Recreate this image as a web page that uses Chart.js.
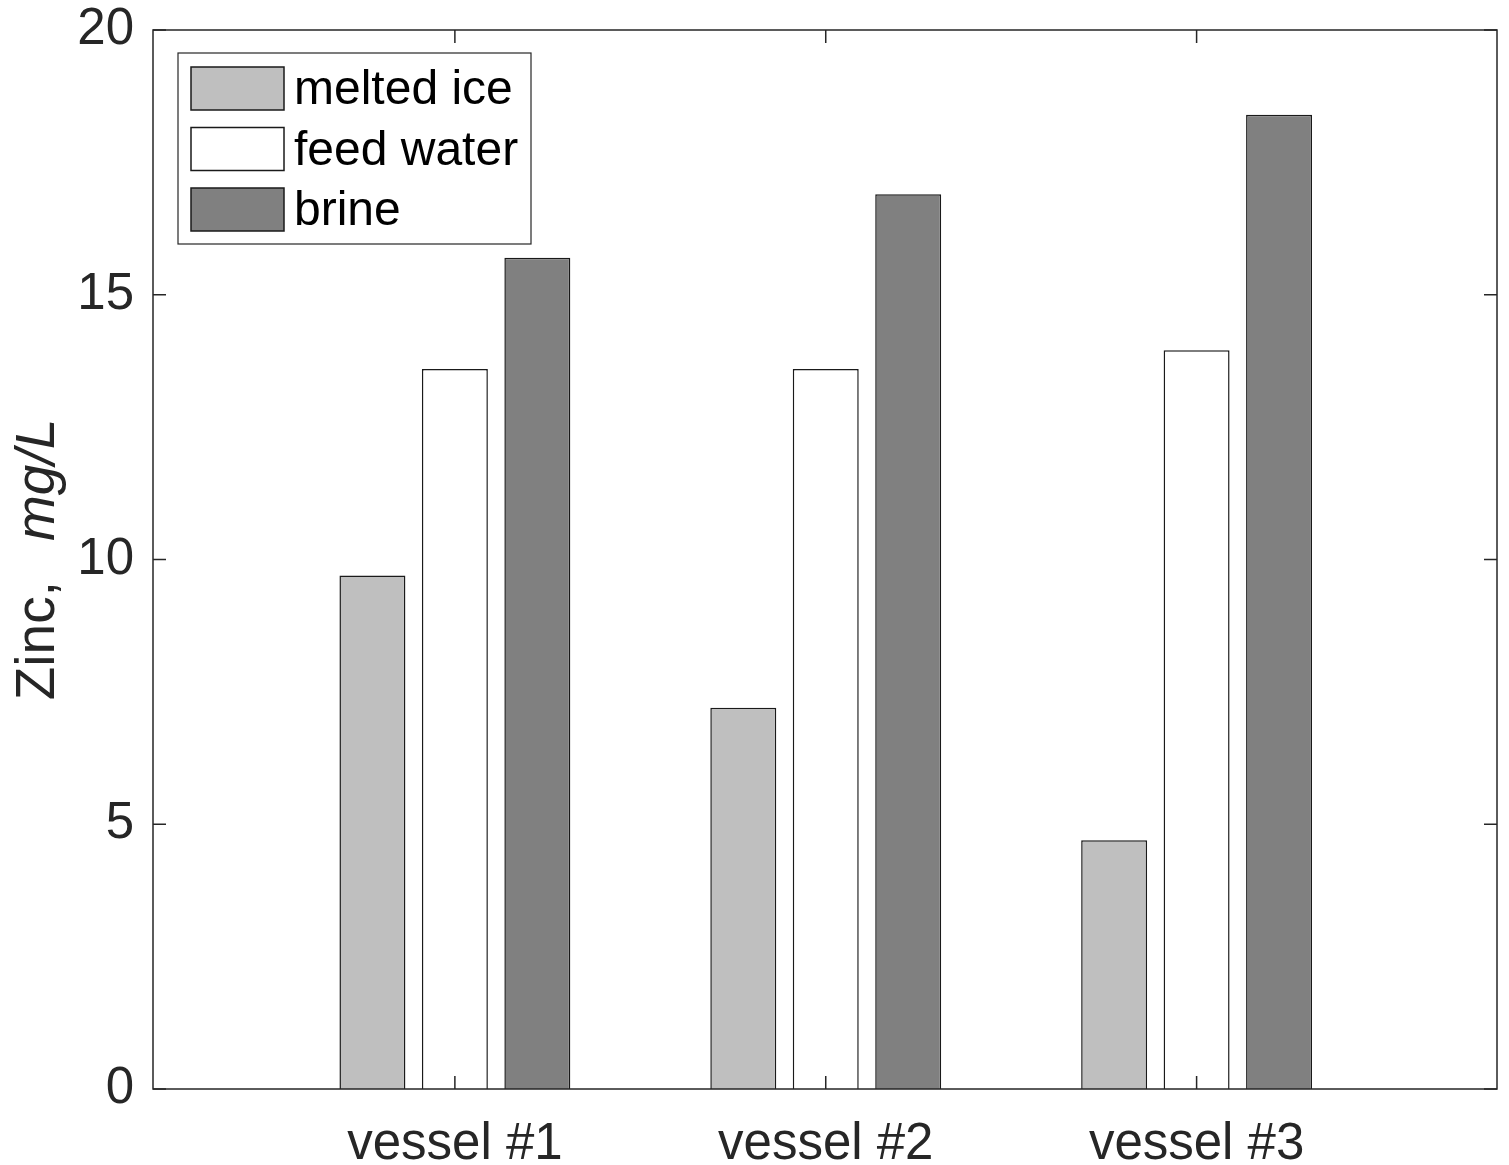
<!DOCTYPE html>
<html>
<head>
<meta charset="utf-8">
<script src="https://cdn.jsdelivr.net/npm/chart.js@4.4.1/dist/chart.umd.min.js"></script>
<style>
  html, body { margin: 0; padding: 0; background: #fff; }
  #wrap { width: 1509px; height: 1165px; }
</style>
</head>
<body>
<div id="wrap"><canvas id="zincChart"></canvas></div>
<script>
const categories = ["vessel #1", "vessel #2", "vessel #3"];
const seriesNames = ["melted ice", "feed water", "brine"];
const meltedIce = [9.7, 7.2, 4.7];
const feedWater = [13.6, 13.6, 13.95];
const brine = [15.7, 16.9, 18.4];
const yTicks = [0, 5, 10, 15, 20];

const fillColors = ["#bfbfbf", "#ffffff", "#808080"];
const axisColor = "#262626";
const fontFamily = "'Liberation Sans', Arial, Helvetica, sans-serif";

function toPoints(values) {
    return values.map((v, i) => ({ x: i + 1, y: v }));
}

// box, inner tick marks, y title, legend
const decorPlugin = {
    id: 'decor',
    afterDraw(chart) {
        const ctx = chart.ctx;
        const area = chart.chartArea;
        const xs = chart.scales.x;
        const ys = chart.scales.y;
        const tickLen = 13;

        ctx.save();
        ctx.strokeStyle = axisColor;
        ctx.lineWidth = 1.5;
        ctx.strokeRect(area.left, area.top, area.right - area.left, area.bottom - area.top);

        ctx.beginPath();
        categories.forEach((c, i) => {
            const px = xs.getPixelForValue(i + 1);
            ctx.moveTo(px, area.bottom);
            ctx.lineTo(px, area.bottom - tickLen);
            ctx.moveTo(px, area.top);
            ctx.lineTo(px, area.top + tickLen);
        });
        yTicks.forEach(v => {
            const py = ys.getPixelForValue(v);
            ctx.moveTo(area.left, py);
            ctx.lineTo(area.left + tickLen, py);
            ctx.moveTo(area.right, py);
            ctx.lineTo(area.right - tickLen, py);
        });
        ctx.stroke();

        // y axis title: "Zinc,  mg/L" with italic unit
        const midY = (area.top + area.bottom) / 2;
        ctx.translate(54, midY);
        ctx.rotate(-Math.PI / 2);
        ctx.fillStyle = axisColor;
        ctx.textBaseline = 'alphabetic';
        ctx.textAlign = 'left';
        const tSize = 55;
        ctx.font = tSize + "px " + fontFamily;
        const part1 = "Zinc,";
        const part2 = "mg/L";
        const gap = 40;
        const w1 = ctx.measureText(part1).width;
        ctx.font = "italic " + tSize + "px " + fontFamily;
        const w2 = ctx.measureText(part2).width;
        const start = -(w1 + gap + w2) / 2;
        ctx.font = tSize + "px " + fontFamily;
        ctx.fillText(part1, start, 0);
        ctx.font = "italic " + tSize + "px " + fontFamily;
        ctx.fillText(part2, start + w1 + gap, 0);
        ctx.restore();

        // legend
        ctx.save();
        const lx = 178, ly = 53, lw = 353, lh = 191;
        ctx.fillStyle = "#ffffff";
        ctx.fillRect(lx, ly, lw, lh);
        ctx.strokeStyle = axisColor;
        ctx.lineWidth = 1.2;
        ctx.strokeRect(lx, ly, lw, lh);
        ctx.font = "48px " + fontFamily;
        ctx.textBaseline = 'middle';
        ctx.textAlign = 'left';
        chart.data.datasets.forEach((ds, i) => {
            const sy = 67 + i * 60.5;
            ctx.fillStyle = ds.backgroundColor;
            ctx.fillRect(191, sy, 93, 43);
            ctx.strokeStyle = "#1a1a1a";
            ctx.lineWidth = 1.5;
            ctx.strokeRect(191, sy, 93, 43);
            ctx.fillStyle = "#000000";
            ctx.fillText(ds.label, 294, sy + 24);
        });
        ctx.restore();
    }
};

const ctx = document.getElementById('zincChart').getContext('2d');

new Chart(ctx, {
    type: 'bar',
    data: {
        datasets: [
            { label: seriesNames[0], data: toPoints(meltedIce), backgroundColor: fillColors[0] },
            { label: seriesNames[1], data: toPoints(feedWater), backgroundColor: fillColors[1] },
            { label: seriesNames[2], data: toPoints(brine), backgroundColor: fillColors[2] }
        ]
    },
    options: {
        responsive: true,
        maintainAspectRatio: false,
        animation: false,
        layout: { padding: { top: 30, right: 12, left: 0, bottom: 0 } },
        datasets: {
            bar: {
                borderColor: "#1a1a1a",
                borderWidth: 1.5,
                categoryPercentage: 0.667,
                barPercentage: 0.8
            }
        },
        plugins: {
            legend: { display: false },
            tooltip: { enabled: false }
        },
        scales: {
            x: {
                type: 'linear',
                offset: false,
                min: 0.186,
                max: 3.81,
                grid: { display: false },
                border: { display: false },
                afterBuildTicks: (scale) => {
                    scale.ticks = categories.map((c, i) => ({ value: i + 1 }));
                },
                afterFit: (scale) => {
                    scale.height = 76;
                    scale.paddingLeft = 0;
                    scale.paddingRight = 0;
                },
                ticks: {
                    color: axisColor,
                    padding: 17,
                    maxRotation: 0,
                    autoSkip: false,
                    font: { family: fontFamily, size: 51 },
                    callback: (v) => categories[v - 1] || ''
                }
            },
            y: {
                min: 0,
                max: 20,
                grid: { display: false },
                border: { display: false },
                afterBuildTicks: (scale) => {
                    scale.ticks = yTicks.map(v => ({ value: v }));
                },
                afterFit: (scale) => {
                    scale.width = 153;
                    scale.paddingTop = 0;
                    scale.paddingBottom = 0;
                },
                ticks: {
                    color: axisColor,
                    padding: 11,
                    font: { family: fontFamily, size: 51 }
                }
            }
        }
    },
    plugins: [decorPlugin]
});
</script>
</body>
</html>
